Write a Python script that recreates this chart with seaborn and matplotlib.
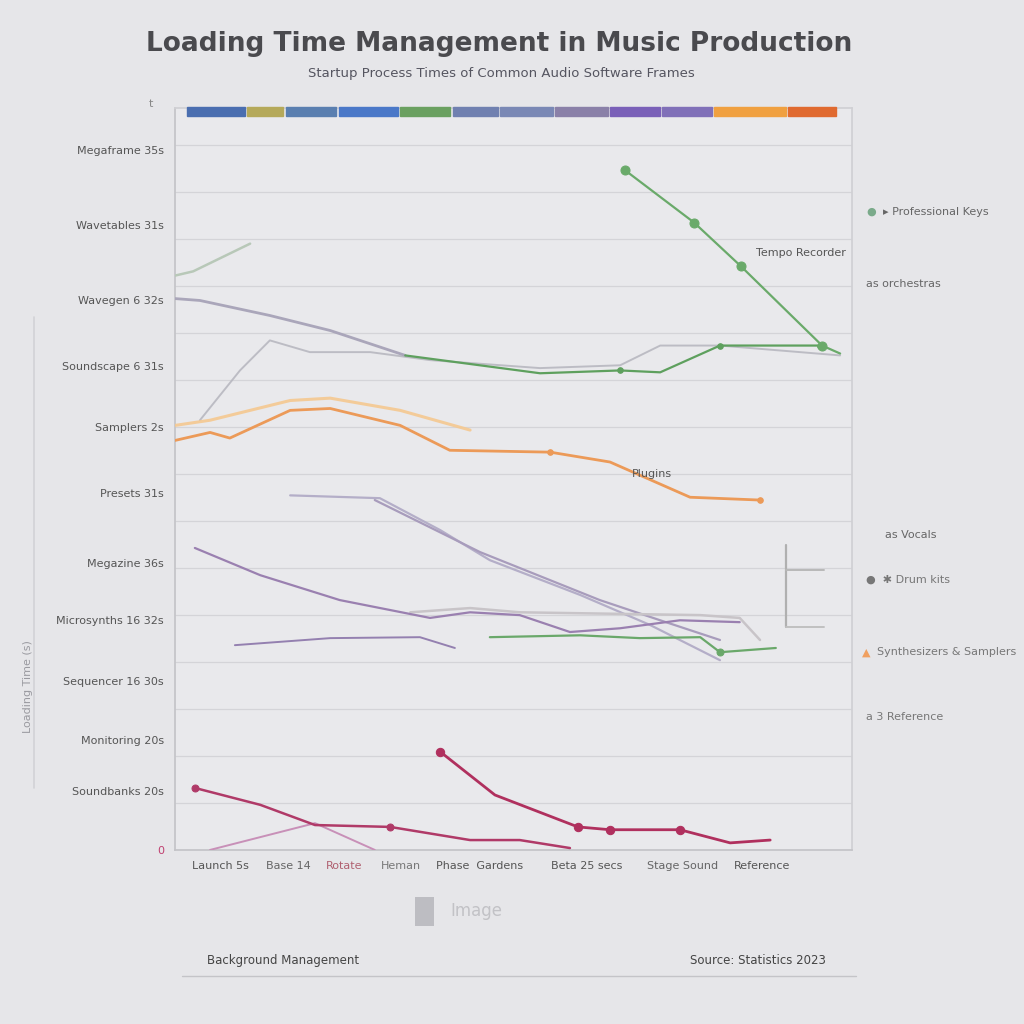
import numpy as np
import pandas as pd
import matplotlib
matplotlib.use("Agg")
import matplotlib.pyplot as plt
import seaborn as sns

sns.set_theme(style="white")
plt.rcParams['font.family'] = ['DejaVu Sans']

BG = "#e6e6e9"

# ---------------- data ----------------
title_text = "Loading Time Management in Music Production"
subtitle_text = "Startup Process Times of Common Audio Software Frames"

ytick_vals = [14.9, 13.3, 11.7, 10.3, 9.0, 7.6, 6.1, 4.9, 3.6, 2.34, 1.26, 0.0]
ytick_labels = ["Megaframe 35s", "Wavetables 31s", "Wavegen 6 32s", "Soundscape 6 31s",
                "Samplers 2s", "Presets 31s", "Megazine 36s", "Microsynths 16 32s",
                "Sequencer 16 30s", "Monitoring 20s", "Soundbanks 20s", "0"]

xtick_vals = [0.8, 2.0, 3.0, 4.0, 5.4, 7.3, 9.0, 10.4]
xtick_labels = ["Launch 5s", "Base 14", "Rotate", "Heman", "Phase  Gardens",
                "Beta 25 secs", "Stage Sound", "Reference"]
xtick_colors = ["#555555", "#666666", "#b06070", "#777777", "#555555", "#555555", "#666666", "#555555"]

strip_colors = ["#4a6eb0", "#b5a95a", "#5a7fb0", "#4a78c8", "#6aa060", "#7080b0",
                "#7a88b5", "#8a80a8", "#7a60b8", "#8070b8", "#f0a040", "#e06a30"]
strip_edges = [0.21, 1.28, 1.96, 2.9, 3.99, 4.92, 5.76, 6.74, 7.71, 8.63, 9.55, 10.87, 11.76]

green_top_x = [7.98, 9.20, 10.03, 11.47, 11.79]
green_top_y = [14.47, 13.36, 12.43, 10.74, 10.57]

green_faint_x = [0.0, 0.32, 1.33]
green_faint_y = [12.23, 12.32, 12.91]

green_mid_x = [4.08, 6.47, 7.89, 8.60, 9.66, 11.43]
green_mid_y = [10.53, 10.15, 10.21, 10.17, 10.74, 10.74]

gray_top_x = [0.0, 0.44, 1.68, 2.75, 4.08]
gray_top_y = [11.74, 11.70, 11.38, 11.06, 10.53]

gray_light_x = [0.44, 1.15, 1.68, 2.39, 3.46, 4.52, 6.47, 7.89, 8.60, 9.66, 11.79]
gray_light_y = [9.15, 10.21, 10.85, 10.60, 10.60, 10.43, 10.26, 10.32, 10.74, 10.74, 10.53]

orange_x = [0.0, 0.62, 0.97, 2.04, 2.75, 3.99, 4.87, 6.65, 7.71, 8.24, 9.13, 10.37]
orange_y = [8.72, 8.89, 8.77, 9.36, 9.40, 9.04, 8.51, 8.47, 8.26, 7.98, 7.51, 7.45]

orange_light_x = [0.0, 0.62, 2.04, 2.75, 3.99, 5.23]
orange_light_y = [9.04, 9.15, 9.57, 9.62, 9.36, 8.94]

lav_a_x = [2.04, 3.63, 4.70, 5.58, 7.18, 8.42, 9.66]
lav_a_y = [7.55, 7.49, 6.81, 6.17, 5.43, 4.79, 4.04]

lav_b_x = [3.54, 5.41, 7.53, 8.60, 9.66]
lav_b_y = [7.45, 6.34, 5.32, 4.89, 4.47]

purple_x = [0.35, 1.51, 2.92, 4.52, 5.23, 6.11, 7.00, 7.89, 8.95, 10.01]
purple_y = [6.43, 5.85, 5.32, 4.94, 5.06, 5.00, 4.64, 4.72, 4.89, 4.85]

purple_flat_x = [1.06, 2.75, 4.34, 4.96]
purple_flat_y = [4.36, 4.51, 4.53, 4.30]

green_low_x = [5.58, 7.18, 8.24, 9.31, 9.66, 10.65]
green_low_y = [4.53, 4.57, 4.51, 4.53, 4.21, 4.30]

gray_low_x = [4.17, 5.23, 6.11, 9.31, 10.01, 10.37]
gray_low_y = [5.06, 5.15, 5.06, 5.00, 4.94, 4.47]

maroon1_x = [0.35, 1.51, 2.48, 3.81, 5.23, 6.11, 7.00]
maroon1_y = [1.32, 0.96, 0.53, 0.49, 0.21, 0.21, 0.04]

maroon2_x = [4.70, 5.67, 7.14, 7.71, 8.95, 9.84, 10.55]
maroon2_y = [2.09, 1.17, 0.49, 0.43, 0.43, 0.15, 0.21]

pink_x = [0.62, 2.48, 3.54]
pink_y = [0.0, 0.57, 0.0]

# ---------------- figure ----------------
fig = plt.figure(figsize=(10.24, 10.24), dpi=100, facecolor=BG)
ax = fig.add_axes([0.171, 0.170, 0.661, 0.7246], facecolor="#e9e9ec")
ax.set_xlim(0, 12)
ax.set_ylim(0, 15.8)

for yy in np.arange(1, 16, 1):
    ax.axhline(yy, color="#d4d4d8", lw=0.9, zorder=0)

def line(x, y, color, lw=1.6, alpha=1.0, marker=None, ms=6, markevery=None):
    df = pd.DataFrame({"x": x, "y": y})
    sns.lineplot(data=df, x="x", y="y", ax=ax, sort=False, color=color, lw=lw,
                 alpha=alpha, marker=marker, markersize=ms, markevery=markevery,
                 markeredgecolor=color, markerfacecolor=color, zorder=3)

line(gray_light_x, gray_light_y, "#b8b8c0", lw=1.4, alpha=0.9)
line(orange_light_x, orange_light_y, "#f5c890", lw=2.2, alpha=0.9)
line(gray_top_x, gray_top_y, "#aaa6ba", lw=2.0)
line(green_faint_x, green_faint_y, "#b8c8b8", lw=1.8)
line(green_mid_x, green_mid_y, "#5ea05e", lw=1.6, marker="o", ms=4, markevery=[2, 4, 5])
line(green_top_x, green_top_y, "#6aaa6a", lw=1.6, marker="o", ms=6.5, markevery=[0, 1, 2, 3])
line(orange_x, orange_y, "#ec9a58", lw=2.0, marker="o", ms=4, markevery=[7, 11])
line(lav_a_x, lav_a_y, "#b4aec8", lw=1.6)
line(lav_b_x, lav_b_y, "#a89cbc", lw=1.6)
line(gray_low_x, gray_low_y, "#c8c4c8", lw=1.8)
line(purple_x, purple_y, "#9a80b0", lw=1.6)
line(purple_flat_x, purple_flat_y, "#9480b0", lw=1.4)
line(green_low_x, green_low_y, "#6aa86a", lw=1.6, marker="o", ms=5, markevery=[4])
line(pink_x, pink_y, "#c890b8", lw=1.4)
line(maroon1_x, maroon1_y, "#b03a68", lw=1.8, marker="o", ms=5, markevery=[0, 3])
line(maroon2_x, maroon2_y, "#b0305e", lw=2.0, marker="o", ms=6, markevery=[0, 2, 3, 4])

# color strip on top of plot area
for i, c in enumerate(strip_colors):
    ax.add_patch(plt.Rectangle((strip_edges[i], 15.63), strip_edges[i + 1] - strip_edges[i] - 0.04, 0.2,
                               color=c, clip_on=False, zorder=5))

# bracket at right
ax.plot([10.83, 10.83], [6.49, 4.75], color="#b0b0b0", lw=1.6)
ax.plot([10.83, 11.5], [5.95, 5.95], color="#b8b8b8", lw=1.4)
ax.plot([10.83, 11.5], [4.75, 4.75], color="#c0c0c0", lw=1.4)

ax.set_xlabel("")
ax.set_ylabel("")
ax.set_yticks(ytick_vals)
ax.set_yticklabels(ytick_labels, fontsize=8, color="#555555")
ax.get_yticklabels()[-1].set_color("#c04070")
ax.set_xticks(xtick_vals)
ax.set_xticklabels(xtick_labels, fontsize=8)
for t, c in zip(ax.get_xticklabels(), xtick_colors):
    t.set_color(c)
ax.tick_params(axis="both", length=0, pad=8)
for s in ["top", "right"]:
    ax.spines[s].set_color("#d0d0d4")
for s in ["left", "bottom"]:
    ax.spines[s].set_color("#c4c4c8")

# in-plot labels
ax.text(10.3, 12.65, "Tempo Recorder", fontsize=8, color="#555555")
ax.text(8.1, 7.95, "Plugins", fontsize=8, color="#555555")

# titles
fig.text(0.487, 0.957, title_text, ha="center", va="center", fontsize=19,
         fontweight="bold", color="#4a4a4e")
fig.text(0.49, 0.928, subtitle_text, ha="center", va="center", fontsize=9.5, color="#555560")

# right side annotations
fig.text(0.846, 0.793, "●", fontsize=8, color="#7aaa8a", va="center")
fig.text(0.862, 0.793, "▸ Professional Keys", fontsize=8, color="#666666", va="center")
fig.text(0.846, 0.723, "as orchestras", fontsize=8, color="#666666", va="center")
fig.text(0.864, 0.478, "as Vocals", fontsize=8, color="#666666", va="center")
fig.text(0.846, 0.434, "●  ✱ Drum kits", fontsize=8, color="#777777", va="center")
fig.text(0.842, 0.363, "▲", fontsize=8, color="#f0a060", va="center")
fig.text(0.856, 0.363, "Synthesizers & Samplers", fontsize=8, color="#777777", va="center")
fig.text(0.846, 0.300, "a 3 Reference", fontsize=8, color="#777777", va="center")

# left side faint rotated label + ruler
fig.text(0.027, 0.33, "Loading Time (s)", rotation=90, fontsize=8, color="#9a9aa0",
         va="center", ha="center")
fig.add_artist(plt.Line2D([0.033, 0.033], [0.23, 0.69], color="#d2d2d6", lw=1.2))
fig.text(0.147, 0.898, "t", fontsize=8, color="#888888", ha="center", va="center")

# bottom
fig.text(0.412, 0.11, " ", fontsize=11, va="center",
         bbox=dict(facecolor="#bdbdc2", edgecolor="none", pad=5))
fig.text(0.44, 0.11, "Image", fontsize=12, color="#c2c2c6", va="center")
fig.text(0.202, 0.062, "Background Management", fontsize=8.5, color="#444444", va="center")
fig.text(0.807, 0.062, "Source: Statistics 2023", fontsize=8.5, color="#444444",
         va="center", ha="right")
fig.add_artist(plt.Line2D([0.178, 0.836], [0.047, 0.047], color="#c4c4c8", lw=1.0))

fig.savefig("out.png", dpi=100, facecolor=BG)
